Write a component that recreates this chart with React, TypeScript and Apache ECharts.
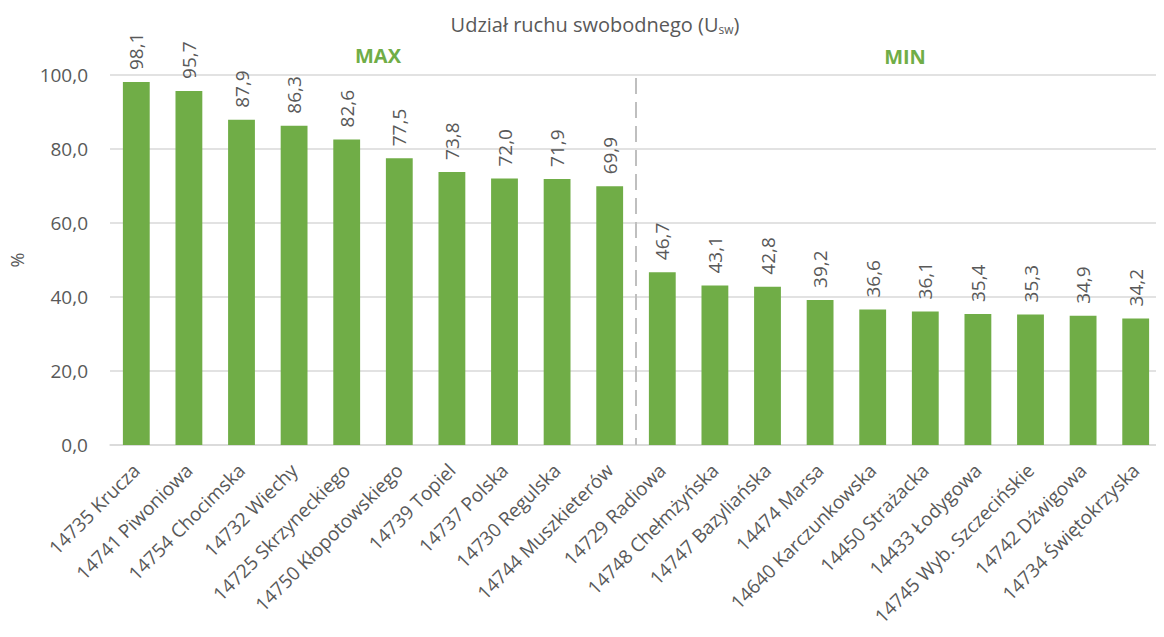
import React, { useEffect, useRef } from "react";
import * as echarts from "echarts";

const categories = [
  "14735 Krucza",
  "14741 Piwoniowa",
  "14754 Chocimska",
  "14732 Wiechy",
  "14725 Skrzyneckiego",
  "14750 Kłopotowskiego",
  "14739 Topiel",
  "14737 Polska",
  "14730 Regulska",
  "14744 Muszkieterów",
  "14729 Radiowa",
  "14748 Chełmżyńska",
  "14747 Bazyliańska",
  "14474 Marsa",
  "14640 Karczunkowska",
  "14450 Strażacka",
  "14433 Łodygowa",
  "14745 Wyb. Szczecińskie",
  "14742 Dźwigowa",
  "14734 Świętokrzyska",
];
const values = [98.1, 95.7, 87.9, 86.3, 82.6, 77.5, 73.8, 72.0, 71.9, 69.9, 46.7, 43.1, 42.8, 39.2, 36.6, 36.1, 35.4, 35.3, 34.9, 34.2];
const groupLabels = ["MAX", "MIN"];
const splitAfterIndex = 9;

const FONT = "'Open Sans', 'Noto Sans', sans-serif";
const GRAY = "#595959";
const GREEN = "#70ad47";

export default function App() {
  const ref = useRef<HTMLDivElement>(null);
  useEffect(() => {
    if (!ref.current) return;
    const chart = echarts.init(ref.current, undefined, { renderer: "svg" });
    const fmt = (v: number) => v.toFixed(1).replace(".", ",");
    chart.setOption({
      animation: false,
      textStyle: { fontFamily: FONT },
      title: {
        text: "{a|Udział ruchu swobodnego (U}{s|sw}{a|)}",
        left: 590,
        textAlign: "center",
        top: 8,
        textStyle: {
          fontWeight: "normal",
          rich: {
            a: { fontFamily: FONT, fontSize: 20, color: GRAY, fontWeight: "normal" },
            s: { fontFamily: FONT, fontSize: 12, color: GRAY, fontWeight: "normal", verticalAlign: "bottom", padding: [10, 0, 0, 0] },
          },
        },
      },
      grid: { left: 110, right: 2, top: 75, bottom: 192, containLabel: false, outerBoundsMode: "none" },
      xAxis: {
        type: "category",
        data: categories,
        axisLine: { lineStyle: { color: "#d9d9d9", width: 1.5 } },
        axisTick: { show: false },
        axisLabel: {
          rotate: 45,
          interval: 0,
          color: GRAY,
          fontSize: 19,
          fontFamily: FONT,
          margin: 22,
        },
      },
      yAxis: {
        type: "value",
        min: 0,
        max: 100,
        interval: 20,
        name: "%",
        nameLocation: "middle",
        nameRotate: 90,
        nameGap: 84,
        nameTextStyle: { color: GRAY, fontSize: 18, fontFamily: FONT },
        axisLabel: {
          color: GRAY,
          fontSize: 19,
          fontFamily: FONT,
          margin: 22,
          formatter: (v: number) => fmt(v),
        },
        splitLine: { lineStyle: { color: "#d9d9d9", width: 1.5 } },
      },
      series: [
        {
          type: "bar",
          data: values,
          barWidth: "51%",
          itemStyle: { color: GREEN },
          label: {
            show: true,
            position: "top",
            rotate: 90,
            align: "left",
            verticalAlign: "middle",
            distance: 12,
            color: GRAY,
            fontSize: 19,
            fontFamily: FONT,
            formatter: (p: any) => fmt(p.value),
          },
        },
      ],
    });

    const xMid = ((chart.convertToPixel({ xAxisIndex: 0 }, splitAfterIndex) as number) +
      (chart.convertToPixel({ xAxisIndex: 0 }, splitAfterIndex + 1) as number)) / 2;
    const yTop = chart.convertToPixel({ yAxisIndex: 0 }, 99.2) as number;
    const yBot = chart.convertToPixel({ yAxisIndex: 0 }, 0) as number;
    const xFirst = chart.convertToPixel({ xAxisIndex: 0 }, 0) as number;
    const xSplitL = chart.convertToPixel({ xAxisIndex: 0 }, splitAfterIndex) as number;
    const xSplitR = chart.convertToPixel({ xAxisIndex: 0 }, splitAfterIndex + 1) as number;
    const xLast = chart.convertToPixel({ xAxisIndex: 0 }, categories.length - 1) as number;
    chart.setOption({
      graphic: [
        {
          type: "line",
          shape: { x1: xMid, y1: yTop, x2: xMid, y2: yBot },
          style: { stroke: "#bfbfbf", lineWidth: 2, lineDash: [16, 8] },
          z: 10,
        },
        {
          type: "text",
          x: (xFirst + xSplitL) / 2 + 5,
          y: 55,
          style: {
            text: groupLabels[0],
            fill: GREEN,
            font: `bold 20px ${FONT}`,
            textAlign: "center",
            textVerticalAlign: "middle",
          },
        },
        {
          type: "text",
          x: (xSplitR + xLast) / 2 + 6,
          y: 56,
          style: {
            text: groupLabels[1],
            fill: GREEN,
            font: `bold 20px ${FONT}`,
            textAlign: "center",
            textVerticalAlign: "middle",
          },
        },
      ],
    });
    return () => chart.dispose();
  }, []);
  return <div ref={ref} style={{ width: 1164, height: 637, margin: -8 }} />;
}
